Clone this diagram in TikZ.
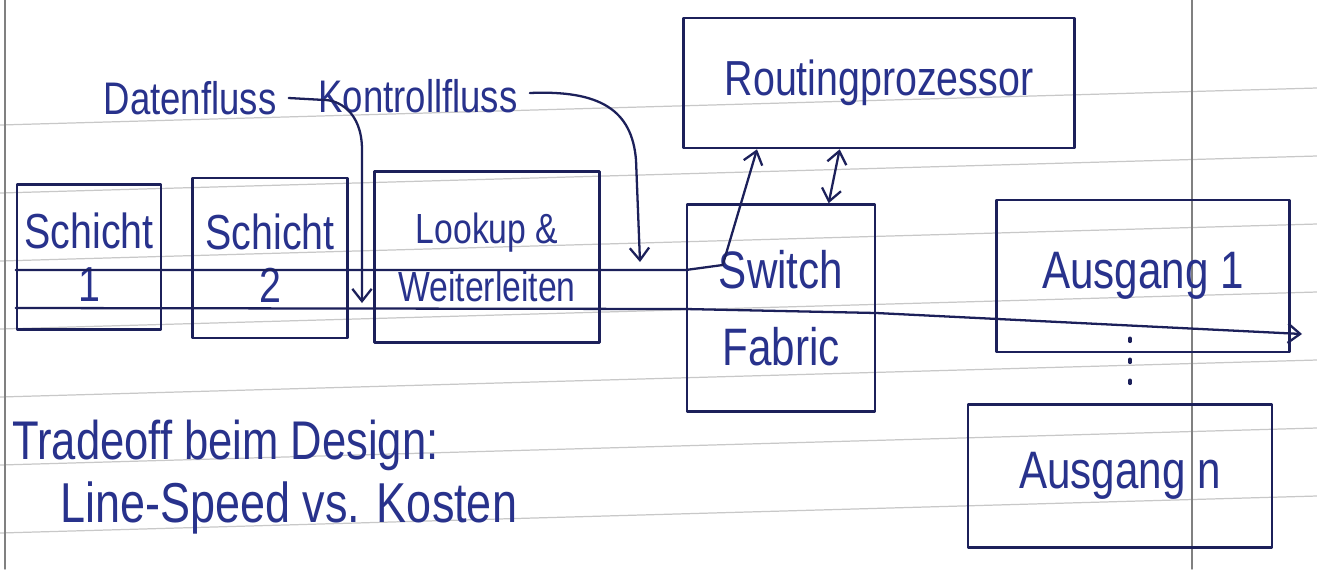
\documentclass[tikz,border=0pt]{standalone}
\usepackage{fontspec}
\newfontfamily\handfont[FakeStretch=0.8]{Liberation Sans}
\usetikzlibrary{calc, arrows.meta, positioning}
\definecolor{ink}{RGB}{40,50,140}
\definecolor{pen}{RGB}{28,32,90}
\definecolor{ruling}{RGB}{200,200,200}
\newcommand{\hw}[2]{\handfont\fontsize{#1}{#2}\selectfont}

\begin{document}
\begin{tikzpicture}[x=0.02cm, y=-0.02cm, >={Straight Barb[length=7pt,width=11pt]}, line cap=round, line join=round]
    % Block styles
    \tikzstyle{box} = [rectangle, draw=pen, line width=1.5pt, inner sep=0pt, align=center, text=ink]
    \tikzstyle{hand} = [text=ink, inner sep=0pt]
    \tikzstyle{flow} = [draw=pen, line width=1.3pt]
    % Paper
    \fill[white] (0,0) rectangle (1317,569);
    \useasboundingbox (0,0) rectangle (1317,569);
    \foreach \k in {0,...,6}
        \draw[ruling, line width=0.7pt] (0,125+68*\k) -- (1317,88+68*\k);
    \draw[gray, line width=0.8pt] (5,0) -- (5,569);
    \draw[gray, line width=0.8pt] (1192,0) -- (1192,569);
    % Blocks
    \node[box, minimum width=2.88cm, minimum height=2.9cm, font=\hw{28}{30}] (s1) at (89,257) {Schicht\\1};
    \node[box, minimum width=3.1cm, minimum height=3.2cm, font=\hw{28}{30}] (s2) at (270,258) {Schicht\\2};
    \node[box, minimum width=4.5cm, minimum height=3.42cm, font=\hw{24}{33}] (lu) at (487,257) {Lookup \&\\Weiterleiten};
    \node[box, minimum width=7.82cm, minimum height=2.6cm, font=\hw{28}{30}] (rp) at (879,83) {Routingprozessor};
    \node[box, minimum width=3.76cm, minimum height=4.14cm, font=\hw{30}{44}] (sw) at (781,308) {Switch\\Fabric};
    \node[box, minimum width=5.86cm, minimum height=3.04cm, font=\hw{30}{32}] (a1) at (1143,276) {Ausgang 1};
    \node[box, minimum width=6.08cm, minimum height=2.86cm, font=\hw{30}{32}] (an) at (1120,476) {Ausgang n};
    % Labels
    \node[hand, font=\hw{26}{28}] (df) at (190,98) {Datenfluss};
    \node[hand, font=\hw{26}{28}] (kf) at (418,96) {Kontrollfluss};
    \node[hand, anchor=west, font=\hw{31}{33}] (tradeoff) at (12,445) {Tradeoff beim Design:};
    \node[hand, anchor=west, font=\hw{32}{34}] (kosten) at (60,508) {Line-Speed vs. Kosten};
    % Connections
    \coordinate (c1) at (362,303);
    \coordinate (c2) at (640,262);
    \coordinate (out) at (1302,334);
    \draw[flow, ->] (s1.west |- 0,308) -- (sw.west |- 0,309) -- (sw.east |- 0,313) -- (out);
    \draw[flow, ->] (s1.west |- 0,270) -- (sw.west |- 0,270) -- ($(sw.west |- 0,270)+(37,-5)$) -- ($(rp.south west)!0.19!(rp.south east)$);
    \draw[flow, <->] ($(rp.south west)!0.4!(rp.south east)$) -- ($(sw.north west)!0.75!(sw.north east)$);
    \draw[flow, ->] ($(df.east)+(12,0)$) -- ++(36,2) .. controls +(12,0) and (362,110) .. (362,150) -- (c1);
    \draw[flow, ->] ($(kf.east)+(12,-3)$) .. controls (600,90) and (632,110) .. (636,160) -- (c2);
    \draw[flow, line width=2pt, dash pattern=on 0.06cm off 0.36cm] ($(a1.south)+(-13,-15)$) -- ($(an.north)+(10,-15)$);
\end{tikzpicture}
\end{document}
